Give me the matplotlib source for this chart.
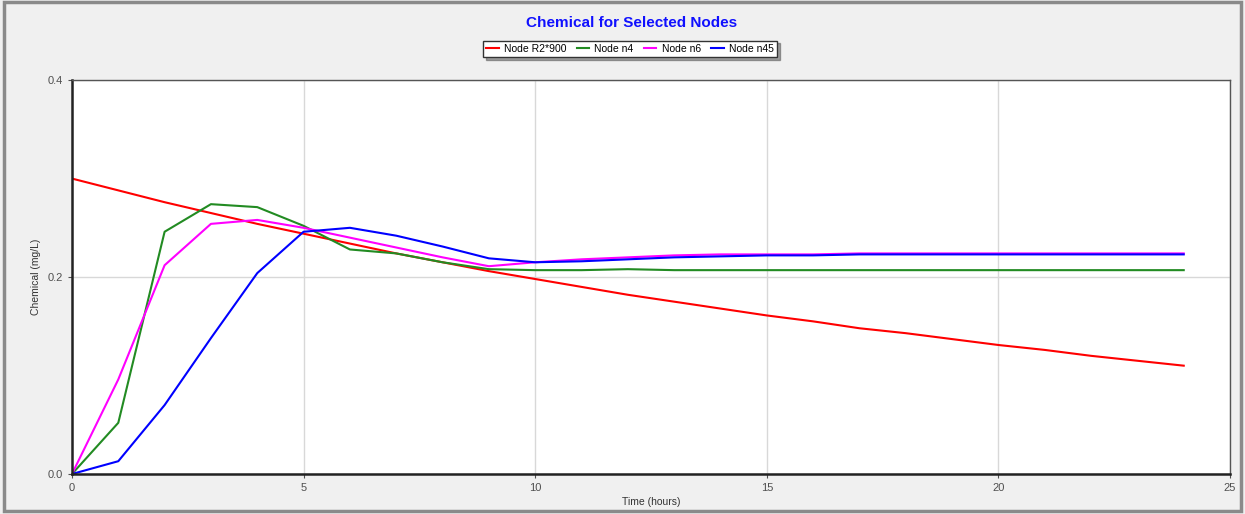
import matplotlib
matplotlib.use("Agg")
import matplotlib.pyplot as plt
from matplotlib.patches import Rectangle

# godziny symulacji
hours = list(range(25))

node_r2_900 = [0.300, 0.288, 0.276, 0.265, 0.254, 0.244, 0.234, 0.224, 0.215, 0.206,
               0.198, 0.190, 0.182, 0.175, 0.168, 0.161, 0.155, 0.148, 0.143, 0.137,
               0.131, 0.126, 0.120, 0.115, 0.110]
node_n4 = [0.0, 0.052, 0.246, 0.274, 0.271, 0.252, 0.228, 0.224, 0.215, 0.208,
           0.207, 0.207, 0.208, 0.207, 0.207, 0.207, 0.207, 0.207, 0.207, 0.207,
           0.207, 0.207, 0.207, 0.207, 0.207]
node_n6 = [0.0, 0.096, 0.212, 0.254, 0.258, 0.250, 0.240, 0.230, 0.220, 0.211,
           0.215, 0.218, 0.220, 0.222, 0.223, 0.223, 0.223, 0.224, 0.224, 0.224,
           0.224, 0.224, 0.224, 0.224, 0.224]
node_n45 = [0.0, 0.013, 0.070, 0.138, 0.204, 0.246, 0.250, 0.242, 0.231, 0.219,
            0.215, 0.216, 0.218, 0.220, 0.221, 0.222, 0.222, 0.223, 0.223, 0.223,
            0.223, 0.223, 0.223, 0.223, 0.223]

labels = ["Node R2*900", "Node n4", "Node n6", "Node n45"]
colors = ["#ff0000", "#228b22", "#ff00ff", "#0000ff"]

plt.rcParams["font.family"] = ["Liberation Sans", "DejaVu Sans"]

fig = plt.figure(figsize=(12.45, 5.14), dpi=100, facecolor="#f0f0f0")
# ramka okna
fig.patches.append(Rectangle((0.003, 0.006), 0.994, 0.99, transform=fig.transFigure,
                             fill=False, edgecolor="#8a8a8a", linewidth=2.5))
ax = fig.add_axes([0.0578, 0.0778, 0.9302, 0.7664])
ax.set_facecolor("white")

for ys, lab, c in zip([node_r2_900, node_n4, node_n6, node_n45], labels, colors):
    ax.plot(hours, ys, color=c, linewidth=1.5, label=lab)

ax.set_xlim(0, 25)
ax.set_ylim(0, 0.4)
ax.set_xticks([0, 5, 10, 15, 20, 25])
ax.set_yticks([0.0, 0.2, 0.4])
ax.set_yticklabels(["0.0", "0.2", "0.4"])
ax.grid(True, color="#d8d8d8", linewidth=1)
ax.tick_params(labelsize=8, colors="#505050", length=3)

for s in ["left", "bottom"]:
    ax.spines[s].set_linewidth(1.8)
    ax.spines[s].set_color("#222222")
for s in ["top", "right"]:
    ax.spines[s].set_linewidth(1)
    ax.spines[s].set_color("#555555")

ax.set_xlabel("Time (hours)", fontsize=7.5, color="#333333", labelpad=3)
ax.set_ylabel("Chemical (mg/L)", fontsize=7.5, color="#333333", labelpad=5)

fig.text(0.507, 0.955, "Chemical for Selected Nodes", ha="center", va="center",
         fontsize=11, fontweight="bold", color="#1010ff")

leg = fig.legend(loc="center", bbox_to_anchor=(0.506, 0.905), ncol=4, fontsize=7.5,
                 frameon=True, fancybox=False, shadow=True, handlelength=1.2,
                 columnspacing=1.0, handletextpad=0.5, borderpad=0.3)
leg.get_frame().set_edgecolor("#333333")
leg.get_frame().set_linewidth(1)

plt.savefig("out.png", dpi=100, facecolor=fig.get_facecolor())
